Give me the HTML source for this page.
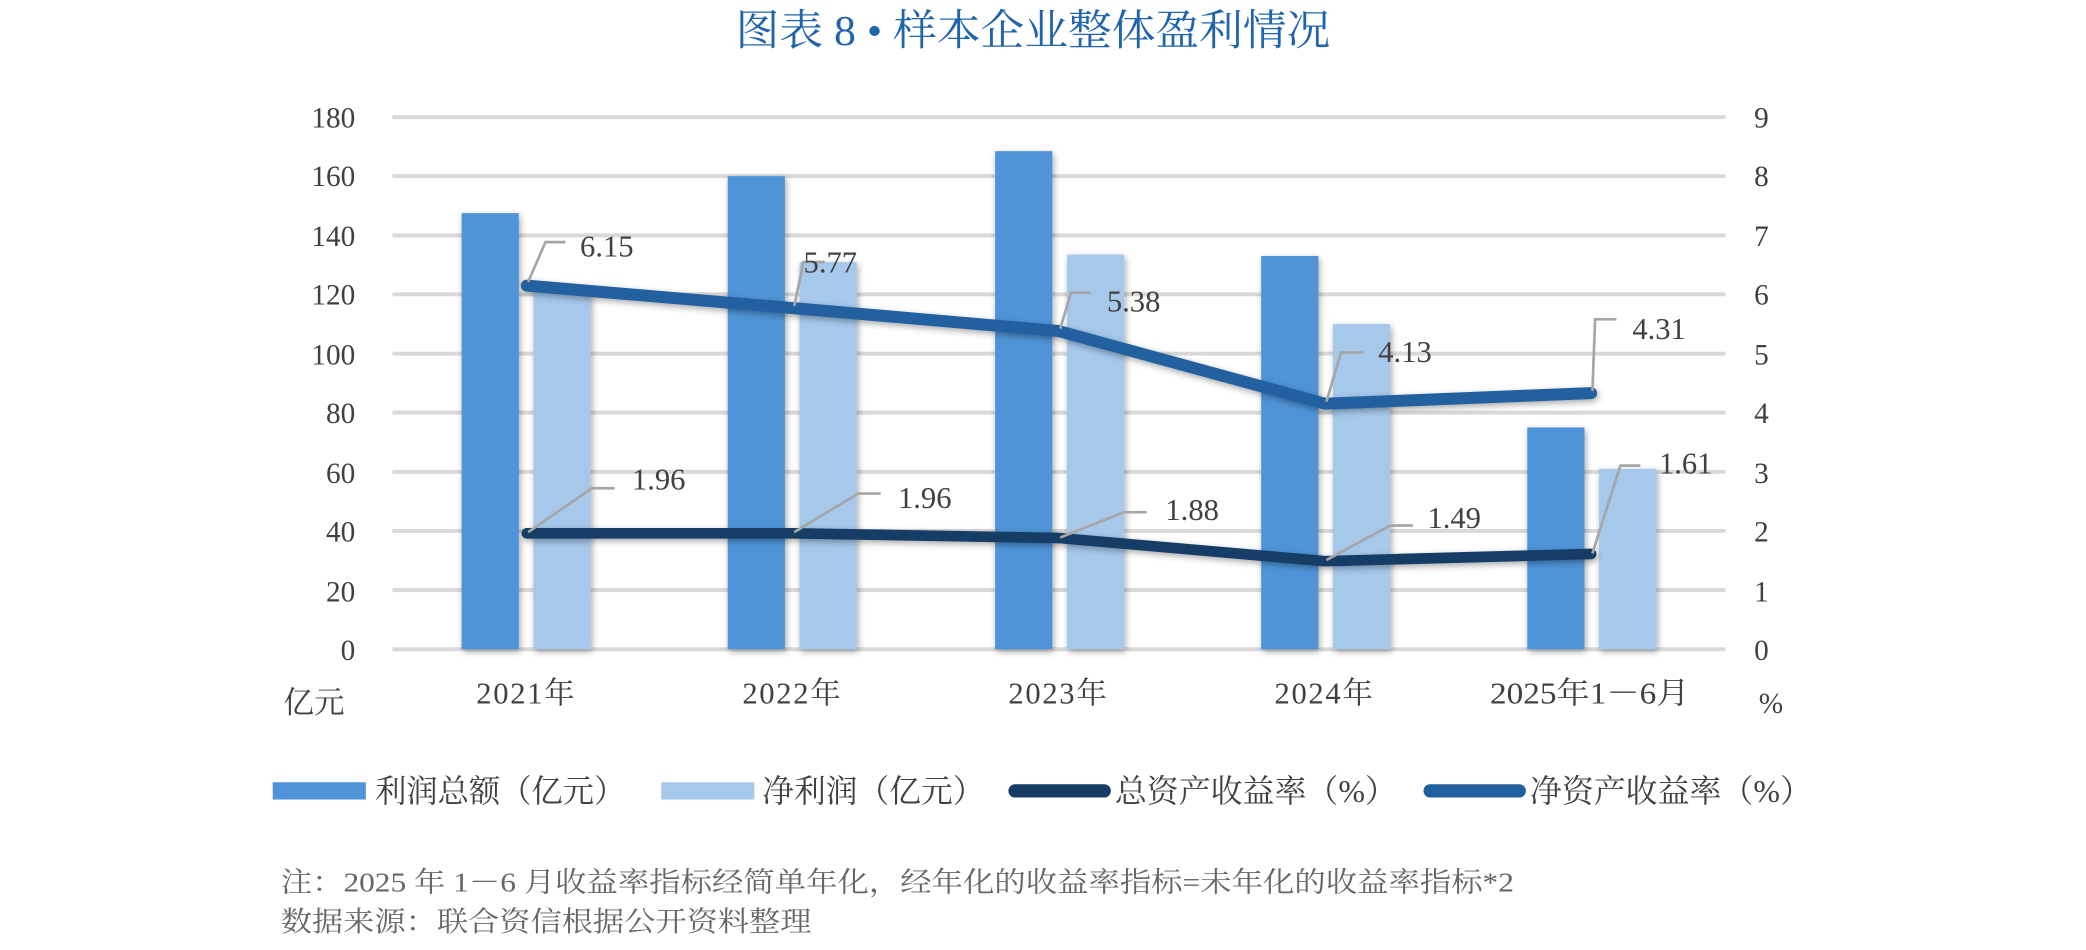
<!DOCTYPE html>
<html><head><meta charset="utf-8"><style>
html,body{margin:0;padding:0;background:#fff;}
svg{display:block;}
text{font-family:"Liberation Serif","Noto Serif CJK SC",serif;fill:#404040;}
</style></head><body>
<svg width="2086" height="950" viewBox="0 0 1568 714.1" preserveAspectRatio="none" xmlns="http://www.w3.org/2000/svg">
<defs>
<filter id="sh" x="-30%" y="-10%" width="160%" height="130%"><feGaussianBlur in="SourceAlpha" stdDeviation="2.5"/><feOffset dx="1" dy="2"/><feComponentTransfer><feFuncA type="linear" slope="0.35"/></feComponentTransfer><feMerge><feMergeNode/><feMergeNode in="SourceGraphic"/></feMerge></filter>
</defs>
<text x="553" y="34" font-size="32" textLength="447" lengthAdjust="spacingAndGlyphs" style="fill:#1f64ad">图表 8 • 样本企业整体盈利情况</text>
<g stroke="#d9d9d9" stroke-width="3">
<line x1="295" y1="88" x2="1297" y2="88"/><line x1="295" y1="132.4" x2="1297" y2="132.4"/>
<line x1="295" y1="176.9" x2="1297" y2="176.9"/><line x1="295" y1="221.3" x2="1297" y2="221.3"/>
<line x1="295" y1="265.8" x2="1297" y2="265.8"/><line x1="295" y1="310.2" x2="1297" y2="310.2"/>
<line x1="295" y1="354.7" x2="1297" y2="354.7"/><line x1="295" y1="399.1" x2="1297" y2="399.1"/>
<line x1="295" y1="443.6" x2="1297" y2="443.6"/><line x1="295" y1="488" x2="1297" y2="488"/>
</g>
<g font-size="22" text-anchor="end">
<text x="267" y="96">180</text><text x="267" y="140">160</text><text x="267" y="185">140</text>
<text x="267" y="229">120</text><text x="267" y="274">100</text><text x="267" y="318">80</text>
<text x="267" y="363">60</text><text x="267" y="407">40</text><text x="267" y="452">20</text><text x="267" y="496">0</text>
</g>
<g font-size="22" text-anchor="middle">
<text x="1324" y="96">9</text><text x="1324" y="140">8</text><text x="1324" y="185">7</text>
<text x="1324" y="229">6</text><text x="1324" y="274">5</text><text x="1324" y="318">4</text>
<text x="1324" y="363">3</text><text x="1324" y="407">2</text><text x="1324" y="452">1</text><text x="1324" y="496">0</text>
</g>
<g filter="url(#sh)">
<rect x="347" y="160.2" width="43" height="327.8" fill="#4f94d8"/>
<rect x="401" y="219" width="43" height="269" fill="#a5c8eb"/>
<rect x="547" y="132.4" width="43" height="355.6" fill="#4f94d8"/>
<rect x="601" y="197" width="43" height="291" fill="#a5c8eb"/>
<rect x="748" y="113.6" width="43" height="374.4" fill="#4f94d8"/>
<rect x="802" y="191.4" width="43" height="296.6" fill="#a5c8eb"/>
<rect x="948" y="192.4" width="43" height="295.6" fill="#4f94d8"/>
<rect x="1002" y="243.6" width="43" height="244.4" fill="#a5c8eb"/>
<rect x="1148" y="321.3" width="43" height="166.7" fill="#4f94d8"/>
<rect x="1202" y="352.4" width="43" height="135.6" fill="#a5c8eb"/>
</g>
<g filter="url(#sh)" fill="none" stroke-linecap="round" stroke-linejoin="round">
<polyline points="396,214.7 596,231.6 796,248.9 996,303.5 1196,295.5" stroke="#21609f" stroke-width="9"/>
<polyline points="396,400.9 596,400.9 796,404.4 996,421.8 1196,416.4" stroke="#173d66" stroke-width="8"/>
</g>
<g fill="none" stroke="#a6a6a6" stroke-width="2">
<polyline points="397,212 410,182 425,182"/>
<polyline points="597,230 604,197 620,197"/>
<polyline points="797,247 805,220 820,220"/>
<polyline points="997,302 1008,265 1025,265"/>
<polyline points="1197,294 1199,240 1215,240"/>
<polyline points="397,400 445,367 462,367"/>
<polyline points="597,400 645,371 662,371"/>
<polyline points="797,404 845,385 862,385"/>
<polyline points="997,421 1045,395 1062,395"/>
<polyline points="1197,416 1218,350 1233,350"/>
</g>
<g font-size="23">
<text x="436" y="193">6.15</text><text x="604" y="205">5.77</text><text x="832" y="234">5.38</text>
<text x="1036" y="272">4.13</text><text x="1227" y="255">4.31</text>
<text x="475" y="368">1.96</text><text x="675" y="382">1.96</text><text x="876" y="391">1.88</text>
<text x="1073" y="397">1.49</text><text x="1247" y="356">1.61</text>
</g>
<g font-size="23" lengthAdjust="spacingAndGlyphs">
<text x="358" y="529" textLength="74">2021年</text><text x="558" y="529" textLength="74">2022年</text><text x="758" y="529" textLength="74">2023年</text>
<text x="958" y="529" textLength="74">2024年</text><text x="1120" y="529" textLength="150" lengthAdjust="spacingAndGlyphs">2025年1－6月</text>
</g>
<text x="213" y="536" font-size="23">亿元</text>
<text x="1322" y="536" font-size="22">%</text>
<rect x="205" y="588" width="70" height="13" fill="#4f94d8"/>
<text x="282" y="603" font-size="24" textLength="188" lengthAdjust="spacingAndGlyphs">利润总额（亿元）</text>
<rect x="497" y="588" width="70" height="13" fill="#a5c8eb"/>
<text x="573" y="603" font-size="24" textLength="167" lengthAdjust="spacingAndGlyphs">净利润（亿元）</text>
<line x1="763" y1="594.5" x2="830" y2="594.5" stroke="#173d66" stroke-width="10" stroke-linecap="round"/>
<text x="838" y="603" font-size="24" textLength="212" lengthAdjust="spacingAndGlyphs">总资产收益率（%）</text>
<line x1="1075" y1="594.5" x2="1142" y2="594.5" stroke="#21609f" stroke-width="10" stroke-linecap="round"/>
<text x="1150" y="603" font-size="24" textLength="212" lengthAdjust="spacingAndGlyphs">净资产收益率（%）</text>
<text x="211" y="670" font-size="21" textLength="927" lengthAdjust="spacingAndGlyphs" style="fill:#666">注：2025 年 1－6 月收益率指标经简单年化，经年化的收益率指标=未年化的收益率指标*2</text>
<text x="211" y="700" font-size="21" textLength="399" lengthAdjust="spacingAndGlyphs" style="fill:#666">数据来源：联合资信根据公开资料整理</text>
</svg>
</body></html>
